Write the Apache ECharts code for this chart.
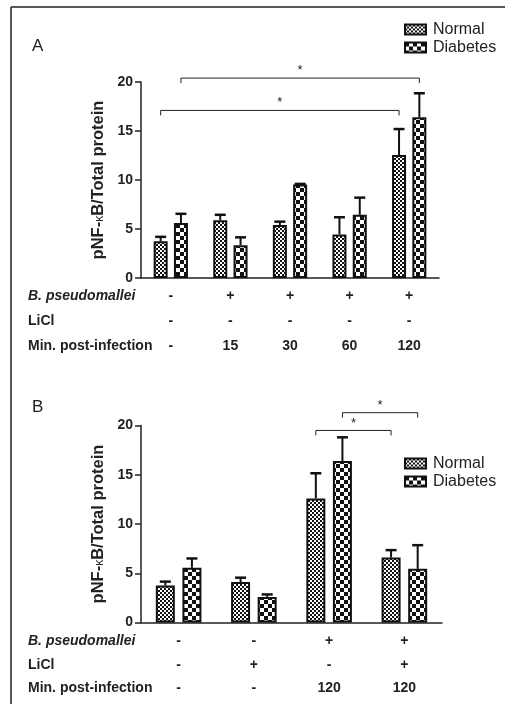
<!DOCTYPE html>
<html>
<head>
<meta charset="utf-8">
<script src="https://cdn.jsdelivr.net/npm/echarts@6/dist/echarts.min.js"></script>
<style>
  html, body { margin: 0; padding: 0; background: #fff; }
  #chart { width: 505px; height: 704px; }
</style>
</head>
<body>
<div id="chart"></div>
<script>
// row labels under each panel
const rowLabels = ['B. pseudomallei', 'LiCl', 'Min. post-infection']
const seriesNames = ['Normal', 'Diabetes']
const yTicks = [0, 5, 10, 15, 20]

// panel A
const bpA = ['-', '+', '+', '+', '+']
const liclA = ['-', '-', '-', '-', '-']
const minA = ['-', '15', '30', '60', '120']
const normalA = [3.75, 5.9, 5.4, 4.45, 12.55]
const normalErrA = [4.2, 6.45, 5.75, 6.2, 15.2]
const diabetesA = [5.6, 3.35, 9.55, 6.45, 16.4]
const diabetesErrA = [6.55, 4.15, 9.6, 8.2, 18.85]
// [series, from group, to group, height]
const bracketsA = [[0, 0, 4, 17.1], [1, 0, 4, 20.4]]

// panel B
const bpB = ['-', '-', '+', '+']
const liclB = ['-', '+', '-', '+']
const minB = ['-', '-', '120', '120']
const normalB = [3.75, 4.1, 12.6, 6.6]
const normalErrB = [4.15, 4.55, 15.15, 7.35]
const diabetesB = [5.55, 2.6, 16.4, 5.45]
const diabetesErrB = [6.5, 2.85, 18.8, 7.85]
const bracketsB = [[0, 2, 3, 19.5], [1, 2, 3, 21.3]]

const FONT = 'Liberation Sans, Arial, sans-serif'

function checker(cell) {
  const c = document.createElement('canvas')
  c.width = cell * 2
  c.height = cell * 2
  const ctx = c.getContext('2d')
  ctx.fillStyle = '#fff'
  ctx.fillRect(0, 0, c.width, c.height)
  ctx.fillStyle = '#111'
  ctx.fillRect(0, 0, cell, cell)
  ctx.fillRect(cell, cell, cell, cell)
  return c
}
const fills = [
  { image: checker(2), repeat: 'repeat' },
  { image: checker(4), repeat: 'repeat' }
]

const chart = echarts.init(document.getElementById('chart'))

function panel(gi, cats, vals, errs, brackets, barWidth, barGap, lineH, margin) {
  const off = (barWidth + barWidth * barGap) / 2
  const idx = cats[0].map((_, i) => i)
  const xAxis = {
    type: 'category',
    gridIndex: gi,
    data: idx,
    axisLine: { lineStyle: { color: '#222', width: 1.5 } },
    axisTick: { alignWithLabel: true, length: 5, lineStyle: { color: '#222', width: 1.5 } },
    axisLabel: {
      margin: margin,
      interval: 0,
      lineHeight: lineH,
      color: '#222',
      fontFamily: FONT,
      fontWeight: 'bold',
      fontSize: 14,
      formatter(v) {
        return cats.map(c => c[v]).join('\n')
      }
    }
  }
  const yAxis = {
    type: 'value',
    gridIndex: gi,
    min: 0,
    max: 20,
    interval: 5,
    name: '{a|pNF-}{k|κ}{a|B/Total protein}',
    nameLocation: 'middle',
    nameGap: 30,
    nameRotate: 90,
    nameTextStyle: {
      rich: {
        a: { fontFamily: FONT, fontWeight: 'bold', fontSize: 16.5, color: '#222' },
        k: { fontFamily: FONT, fontSize: 12, color: '#222', padding: [4, 0, 0, 0] }
      }
    },
    axisLine: { show: true, lineStyle: { color: '#222', width: 1.5 } },
    axisTick: { show: true, length: 6, lineStyle: { color: '#222', width: 1.5 } },
    axisLabel: { margin: 8, color: '#222', fontFamily: FONT, fontWeight: 'bold', fontSize: 14 },
    splitLine: { show: false }
  }
  const series = []
  vals.forEach((v, s) => {
    series.push({
      name: seriesNames[s],
      type: 'bar',
      xAxisIndex: gi,
      yAxisIndex: gi,
      barWidth: barWidth,
      barGap: (barGap * 100) + '%',
      itemStyle: { color: fills[s], borderColor: '#111', borderWidth: 2 },
      data: v
    })
  })
  vals.forEach((v, s) => {
    const dx = s === 0 ? -off : off
    series.push({
      type: 'custom',
      xAxisIndex: gi,
      yAxisIndex: gi,
      z: 1,
      data: v.map((y, i) => [i, y, errs[s][i]]),
      renderItem(params, api) {
        const p0 = api.coord([api.value(0), api.value(1)])
        const p1 = api.coord([api.value(0), api.value(2)])
        const x = p0[0] + dx
        return {
          type: 'group',
          children: [
            { type: 'line', shape: { x1: x, y1: p0[1], x2: x, y2: p1[1] }, style: { stroke: '#111', lineWidth: 2 } },
            { type: 'line', shape: { x1: x - 5.5, y1: p1[1], x2: x + 5.5, y2: p1[1] }, style: { stroke: '#111', lineWidth: 2.5 } }
          ]
        }
      }
    })
  })
  series.push({
    type: 'custom',
    xAxisIndex: gi,
    yAxisIndex: gi,
    clip: false,
    data: brackets,
    renderItem(params, api) {
      const dx = api.value(0) === 0 ? -off : off
      const a = api.coord([api.value(1), api.value(3)])
      const b = api.coord([api.value(2), api.value(3)])
      const x1 = a[0] + dx
      const x2 = b[0] + dx
      const y = a[1]
      return {
        type: 'group',
        children: [
          { type: 'polyline', shape: { points: [[x1, y + 5], [x1, y], [x2, y], [x2, y + 5]] }, style: { stroke: '#222', lineWidth: 1, fill: null } },
          { type: 'text', style: { x: (x1 + x2) / 2, y: y - 1, text: '*', fontSize: 13, fontFamily: FONT, fill: '#222', align: 'center', verticalAlign: 'bottom' } }
        ]
      }
    }
  })
  return { xAxis, yAxis, series }
}

const pA = panel(0, [bpA, liclA, minA], [normalA, diabetesA], [normalErrA, diabetesErrA], bracketsA, 14, 0.45, 25, 6)
const pB = panel(1, [bpB, liclB, minB], [normalB, diabetesB], [normalErrB, diabetesErrB], bracketsB, 19, 0.4, 23.5, 7)

function sideLabels(top, step) {
  return rowLabels.map((t, i) => ({
    type: 'text',
    left: 28,
    top: top + i * step,
    style: {
      text: t,
      fontFamily: FONT,
      fontWeight: 'bold',
      fontStyle: i === 0 ? 'italic' : 'normal',
      fontSize: 14,
      fill: '#222'
    }
  }))
}

const legendBase = {
  orient: 'vertical',
  icon: 'rect',
  itemWidth: 21,
  itemHeight: 10,
  itemGap: 2,
  data: seriesNames,
  itemStyle: { borderColor: '#111', borderWidth: 2 },
  textStyle: { fontFamily: FONT, fontSize: 16, color: '#222', padding: [0, 0, 0, 2] }
}

chart.setOption({
  backgroundColor: '#fff',
  animation: false,
  grid: [
    { left: 141, right: 66, top: 82, bottom: 426 },
    { left: 141, right: 63, top: 425.5, bottom: 81.5 }
  ],
  legend: [
    Object.assign({ left: 399, top: 16.5 }, legendBase),
    Object.assign({ left: 399, top: 450.5 }, legendBase)
  ],
  xAxis: [pA.xAxis, pB.xAxis],
  yAxis: [pA.yAxis, pB.yAxis],
  series: pA.series.concat(pB.series),
  graphic: [
    { type: 'line', shape: { x1: 11, y1: 7, x2: 505, y2: 7 }, style: { stroke: '#222', lineWidth: 1.5 } },
    { type: 'line', shape: { x1: 11, y1: 7, x2: 11, y2: 704 }, style: { stroke: '#222', lineWidth: 1.5 } },
    { type: 'text', left: 32, top: 38, style: { text: 'A', fontFamily: FONT, fontSize: 17, fill: '#222' } },
    { type: 'text', left: 32, top: 399, style: { text: 'B', fontFamily: FONT, fontSize: 17, fill: '#222' } }
  ].concat(sideLabels(289, 25), sideLabels(634.5, 23.5))
})
</script>
</body>
</html>
